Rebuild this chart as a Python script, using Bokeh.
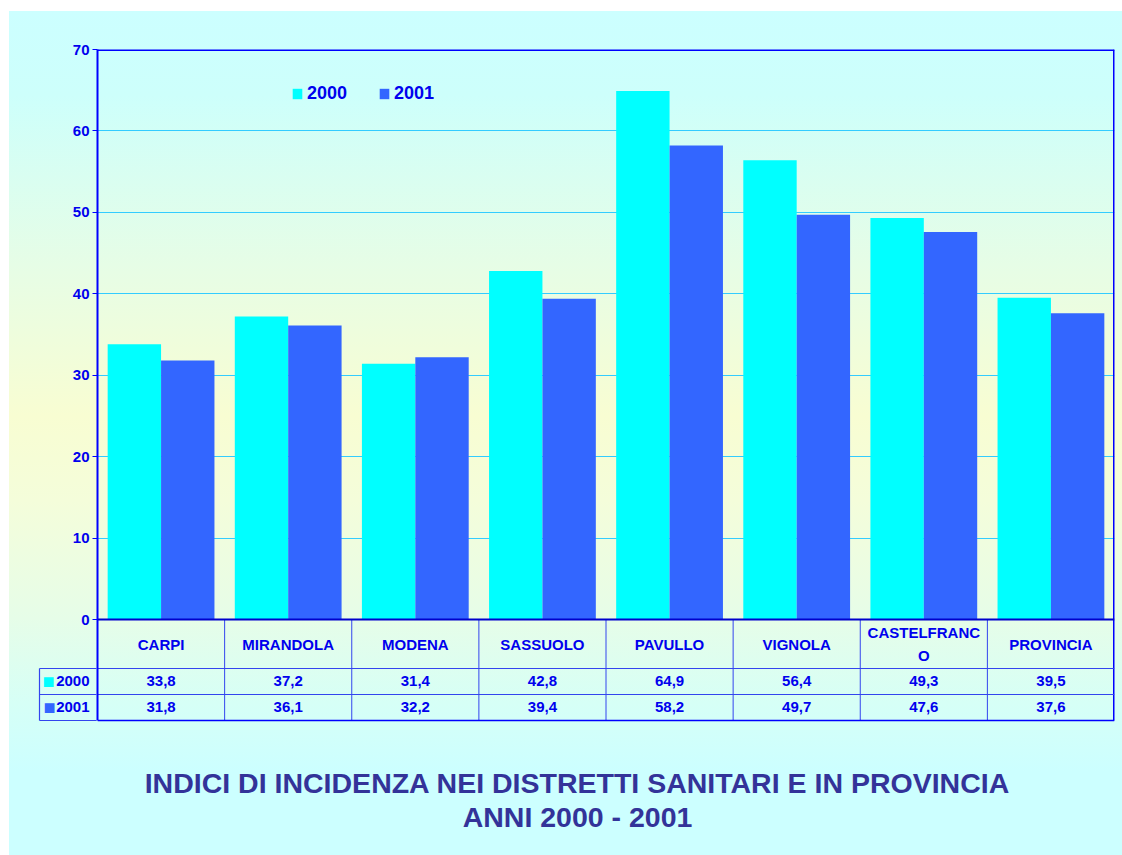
from bokeh.plotting import figure
from bokeh.models import (FactorRange, Range1d, FixedTicker, Legend, LegendItem,
                          LinearAxis, Span, ColumnDataSource)
from bokeh.transform import dodge
from bokeh.core.properties import value
from bokeh.embed import file_html
from bokeh.resources import INLINE

# ---------------- data ----------------
categories = ["CARPI", "MIRANDOLA", "MODENA", "SASSUOLO", "PAVULLO",
              "VIGNOLA", "CASTELFRANCO", "PROVINCIA"]
series_names = ["2000", "2001"]
values_2000 = [33.8, 37.2, 31.4, 42.8, 64.9, 56.4, 49.3, 39.5]
values_2001 = [31.8, 36.1, 32.2, 39.4, 58.2, 49.7, 47.6, 37.6]
y_ticks = [0, 10, 20, 30, 40, 50, 60, 70]
title_lines = ["INDICI DI INCIDENZA NEI DISTRETTI SANITARI E IN PROVINCIA",
               "ANNI 2000 - 2001"]

# ---------------- style / layout ----------------
FONT = "Liberation Sans"
BLUE = "#0000ee"
LINE = "#3344ee"
C2000 = "#00ffff"
C2001 = "#3366ff"
W, H = 1122, 855
F_LEFT, F_RIGHT, F_TOP = 97, 1114, 49
Y0_PX, T_BOTTOM = 619, 720          # pixel row of value 0 and bottom of table
YMAX = 70
s = (Y0_PX - F_TOP) / YMAX          # px per unit
n = len(categories)
unit = (F_RIGHT - F_LEFT) / n


def ypx(py):
    return -(py - Y0_PX) / s


def xpx(px):
    return (px - F_LEFT) / unit


ROW_C = [-7.6, -10.8]                            # centres of the two value rows
B_CAT, B_ROW, B_BOT = ypx(668), ypx(694), ypx(T_BOTTOM)   # table row borders

grad = ("linear-gradient(to bottom, #ccffff 0%, #cdfffb 10%, #e6fde6 30%, "
        "#f8fdd2 48%, #f4fdda 58%, #e6fde8 72%, #d6fff6 82%, #ccffff 90%, #ccffff 100%) "
        "9px 11px / calc(100% - 9px) calc(100% - 11px) no-repeat, #ffffff")

p = figure(
    width=W, height=H, output_backend="svg", toolbar_location=None,
    x_range=FactorRange(*categories, range_padding=0),
    y_range=Range1d(ypx(H), YMAX),
    x_axis_location=None,
    min_border_left=F_LEFT, min_border_right=W - F_RIGHT,
    min_border_top=F_TOP, min_border_bottom=0,
    background_fill_color=None, border_fill_color=None,
    styles={"background": grad},
)
p.outline_line_color = None

# main y axis: values 0..70 (ticks drawn as minor ticks) + table row headers
yax = p.yaxis[0]
yax.ticker = FixedTicker(ticks=y_ticks + ROW_C, minor_ticks=y_ticks)
yax.major_label_overrides = {ROW_C[0]: series_names[0], ROW_C[1]: series_names[1]}
yax.bounds = (B_BOT, YMAX)
yax.axis_line_color = "#0000ff"
yax.axis_line_width = 2
yax.major_tick_out = 0
yax.major_tick_in = 0
yax.major_tick_line_color = None
yax.minor_tick_out = 5
yax.minor_tick_in = 0
yax.minor_tick_line_color = "#0000ff"
yax.minor_tick_line_width = 1
yax.major_label_text_font = FONT
yax.major_label_text_font_style = "bold"
yax.major_label_text_font_size = "15px"
yax.major_label_text_color = BLUE
yax.major_label_standoff = 3

# colour keys of the two table rows
for i, (col, so) in enumerate(zip([C2000, C2001], [-1, -16])):
    key = LinearAxis(ticker=FixedTicker(ticks=[ROW_C[i]]),
                     major_label_overrides={ROW_C[i]: "\u25a0"},
                     axis_line_color=None, major_tick_line_color=None,
                     minor_tick_line_color=None, major_tick_out=0, major_tick_in=0,
                     major_label_standoff=so, major_label_text_color=col,
                     major_label_text_font=FONT, major_label_text_font_size="20px")
    p.add_layout(key, "left")

# outer left cell borders of the row-header column
cells = LinearAxis(ticker=FixedTicker(ticks=[B_CAT, B_ROW, B_BOT]), bounds=(B_BOT, B_CAT),
                   axis_line_color=LINE, axis_line_width=1.2,
                   major_tick_line_color=LINE, major_tick_line_width=1.2,
                   major_tick_in=57, major_tick_out=0, minor_tick_line_color=None,
                   major_label_text_alpha=0, major_label_text_font_size="1px",
                   major_label_standoff=0)
p.add_layout(cells, "left")

p.xgrid.visible = False
p.ygrid.ticker = FixedTicker(ticks=y_ticks[1:-1])
p.ygrid.grid_line_color = "#33ccff"
p.ygrid.grid_line_width = 1

# bars
src = ColumnDataSource(dict(cat=categories, v2000=values_2000, v2001=values_2001))
r0 = p.vbar(x=dodge("cat", -0.21, range=p.x_range), top="v2000", width=0.42,
            source=src, fill_color=C2000, line_color=None)
r1 = p.vbar(x=dodge("cat", 0.21, range=p.x_range), top="v2001", width=0.42,
            source=src, fill_color=C2001, line_color=None)

# plot box: top edge, right edge, zero line
p.add_layout(Span(location=YMAX, dimension="width", line_color="#0000ff", line_width=3))
p.segment(x0=[n], x1=[n], y0=[YMAX], y1=[B_BOT], line_color="#0000ff", line_width=3)
p.add_layout(Span(location=0, dimension="width", line_color="#0000cc", line_width=2))

# ---------- data table below the bars ----------
bounds = list(range(1, n))
p.segment(x0=bounds, x1=bounds, y0=[0] * len(bounds), y1=[B_BOT] * len(bounds),
          line_color=LINE, line_width=1)
for yy in (B_CAT, B_ROW):
    p.segment(x0=[0], x1=[n], y0=[yy], y1=[yy], line_color=LINE, line_width=1.2)
p.segment(x0=[0], x1=[n], y0=[B_BOT], y1=[B_BOT], line_color="#0000ff", line_width=1.5)

cat_labels = [c if len(c) <= 11 else c[:11] + "\n" + c[11:] for c in categories]
fmt = lambda v: f"{v:.1f}".replace(".", ",")
tsrc = ColumnDataSource(dict(
    cat=categories, lbl=cat_labels,
    t2000=[fmt(v) for v in values_2000], t2001=[fmt(v) for v in values_2001]))
common = dict(text_font=value(FONT), text_font_style="bold", text_font_size="15px",
              text_color=BLUE, text_align="center", text_baseline="middle", source=tsrc)
p.text(x="cat", y=ypx((Y0_PX + 668) / 2), text="lbl", text_line_height=1.35, **common)
p.text(x="cat", y=ROW_C[0], text="t2000", **common)
p.text(x="cat", y=ROW_C[1], text="t2001", **common)

# legend in the plot
legend = Legend(items=[LegendItem(label=series_names[0], renderers=[r0]),
                       LegendItem(label=series_names[1], renderers=[r1])],
                orientation="horizontal", location=(194, H - 104),
                glyph_width=12, glyph_height=13, label_height=18,
                label_standoff=4, spacing=31, padding=0, margin=0,
                label_text_font=FONT, label_text_font_style="bold",
                label_text_font_size="18px", label_text_color=BLUE,
                background_fill_alpha=0, border_line_alpha=0)
p.add_layout(legend)

# title (two lines below the table)
p.text(x=[xpx(577)] * 2, y=[ypx(782), ypx(816)], text=title_lines,
       text_font=value(FONT), text_font_style="bold", text_font_size="28.5px",
       text_color="#333399", text_align="center", text_baseline="middle")

open("out.html", "w").write(file_html(p, INLINE))
